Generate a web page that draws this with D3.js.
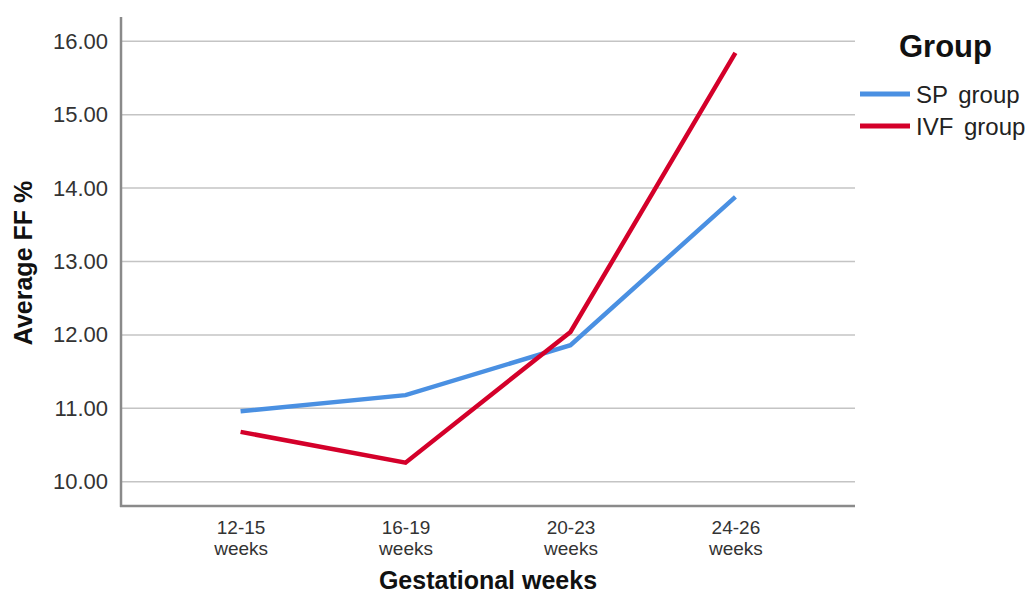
<!DOCTYPE html>
<html><head><meta charset="utf-8">
<script src="https://cdn.jsdelivr.net/npm/d3@7"></script>
<style>body{margin:0;background:#fff;}text{font-family:Arial,"Liberation Sans",sans-serif;}</style>
</head><body>
<svg id="c" width="1035" height="596"></svg>
<script>
const categories = ["12-15 weeks","16-19 weeks","20-23 weeks","24-26 weeks"];
const spValues = [10.96, 11.18, 11.86, 13.88];
const ivfValues = [10.68, 10.26, 12.04, 15.84];
const yTicks = [10,11,12,13,14,15,16];
const seriesNames = ["SP group","IVF group"];
const seriesColors = ["#4a90e2","#d4002a"];

const svg = d3.select("#c");
const L = 121, R = 855, T = 17, B = 506;
const x = d3.scalePoint().domain(categories).range([L, R]).padding(0.725);
const y = d3.scaleLinear().domain([9.67, 16.33]).range([B, T]);

// gridlines
svg.append("g").selectAll("line").data(yTicks).join("line")
  .attr("x1", L).attr("x2", R).attr("y1", d=>y(d)).attr("y2", d=>y(d))
  .attr("stroke", "#c4c4c4").attr("stroke-width", 1.5);

// axes
const yAxis = svg.append("g").attr("transform", `translate(${L},0)`)
  .call(d3.axisLeft(y).tickValues(yTicks).tickFormat(d3.format(".2f")).tickSize(0).tickPadding(13));
yAxis.select(".domain").remove();
yAxis.selectAll("text").attr("font-size", 22).attr("fill", "#333");

const xAxis = svg.append("g").attr("transform", `translate(0,${B})`)
  .call(d3.axisBottom(x).tickSize(0).tickFormat(""));
xAxis.select(".domain").remove();
xAxis.selectAll(".tick").each(function(d){
  const parts = d.split(" ");
  const g = d3.select(this);
  g.append("text").attr("fill","#333").attr("font-size",19).attr("text-anchor","middle")
    .attr("y",28).text(parts[0]);
  g.append("text").attr("fill","#333").attr("font-size",19).attr("text-anchor","middle")
    .attr("y",49).text(parts[1]);
});

svg.append("line").attr("x1", L).attr("x2", L).attr("y1", T).attr("y2", B+1)
  .attr("stroke", "#8a8a8a").attr("stroke-width", 2.5);
svg.append("line").attr("x1", L-1).attr("x2", R).attr("y1", B).attr("y2", B)
  .attr("stroke", "#8a8a8a").attr("stroke-width", 2.5);

// lines
const line = d3.line().x((d,i)=>x(categories[i])).y(d=>y(d));
[spValues, ivfValues].forEach((vals, i) => {
  svg.append("path").datum(vals).attr("d", line).attr("fill","none")
    .attr("stroke", seriesColors[i]).attr("stroke-width", 4.5).attr("stroke-linejoin","miter");
});

// titles
svg.append("text").attr("transform", "translate(32,263) rotate(-90)").attr("text-anchor","middle")
  .attr("font-size", 25).attr("font-weight","bold").attr("fill","#111").text("Average FF %");
svg.append("text").attr("x", 488).attr("y", 589).attr("text-anchor","middle")
  .attr("font-size", 25).attr("font-weight","bold").attr("fill","#111").text("Gestational weeks");

// legend
svg.append("text").attr("x", 899).attr("y", 57).attr("font-size", 31).attr("font-weight","bold").attr("fill","#111").text("Group");
seriesNames.forEach((n,i) => {
  const yy = 94 + i*32;
  svg.append("line").attr("x1", 860).attr("x2", 910).attr("y1", yy).attr("y2", yy)
    .attr("stroke", seriesColors[i]).attr("stroke-width", 5);
  svg.append("text").attr("x", 916).attr("y", yy+9).attr("font-size", 24).attr("fill","#222")
    .attr("word-spacing", 4).text(n);
});
</script>
</body></html>
